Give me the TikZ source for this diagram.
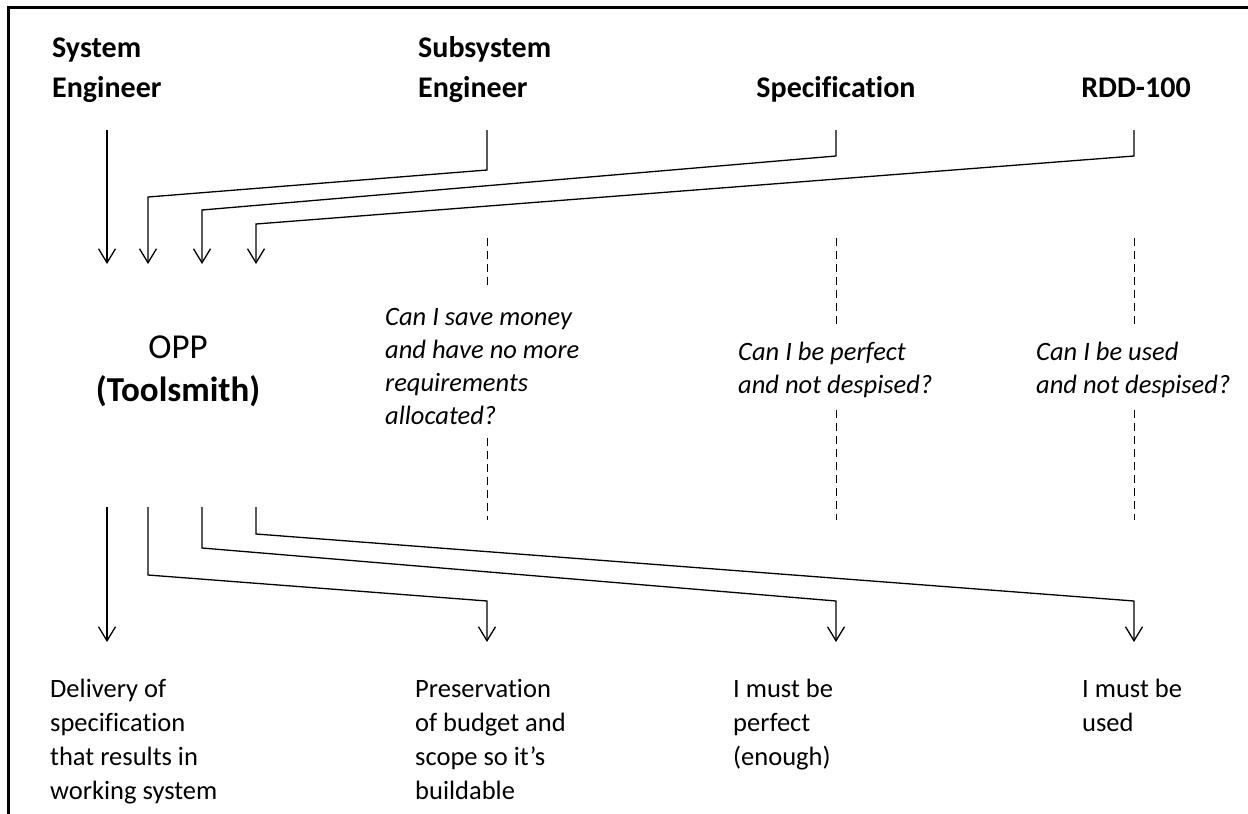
\documentclass[tikz,border=0pt]{standalone}
\usepackage{fontspec}
\setmainfont{Carlito}[Ligatures=CommonOff]
\usetikzlibrary{arrows.meta}
\begin{document}
\begin{tikzpicture}[x=1pt,y=-1pt,
  head/.style={anchor=base west, align=left, inner sep=0pt, font=\bfseries\fontsize{30}{40}\selectfont},
  headc/.style={anchor=base, align=left, inner sep=0pt, font=\bfseries\fontsize{30}{40}\selectfont},
  body/.style={anchor=base west, align=left, inner sep=0pt, font=\fontsize{26.5}{34}\selectfont},
  quest/.style={anchor=base west, align=left, inner sep=0pt, font=\itshape\fontsize{26.5}{33}\selectfont},
  conn/.style={line width=1.3pt, -{Straight Barb[length=14pt,width=17pt]}},
  guide/.style={line width=1pt, dash pattern=on 8pt off 5pt},
  frame/.style={line width=3pt}]
\useasboundingbox (0,0) rectangle (1248,814);
\draw[frame] (8,814) -- (8,7) -- (1248,7);

% headers (anchor = baseline of last line)
\node[head] (se) at (52,97) {System\\Engineer};
\node[head] (sse) at (418,97) {Subsystem\\Engineer};
\node[headc] (spec) at (836,97) {Specification};
\node[headc] (rdd) at (1136,97) {RDD-100};

% tool node
\node[align=center, inner sep=0pt, anchor=base, font=\fontsize{35}{43}\selectfont] (opp) at (178,401)
  {OPP\\\textbf{(Toolsmith)}};

% questions
\node[quest] (q1) at (385,424) {Can I save money\\and have no more\\requirements\\allocated?};
\node[quest] (q2) at (738,393) {Can I be perfect\\and not despised?};
\node[quest] (q3) at (1036,393) {Can I be used\\and not despised?};

% outcomes
\node[body] (o1) at (50,799) {Delivery of\\specification\\that results in\\working system};
\node[body] (o2) at (415,799) {Preservation\\of budget and\\scope so it’s\\buildable};
\node[body] (o3) at (733,765) {I must be\\perfect\\(enough)};
\node[body] (o4) at (1082,731) {I must be\\used};

% coordinates
\coordinate (se-out) at (107,130);
\coordinate (sse-out) at (487,130);
\coordinate (spec-out) at (836,130);
\coordinate (rdd-out) at (1134,130);
\coordinate (in1) at (107,264);
\coordinate (in2) at (148,264);
\coordinate (in3) at (202,264);
\coordinate (in4) at (256,264);
\coordinate (out1) at (107,507);
\coordinate (out2) at (148,507);
\coordinate (out3) at (202,507);
\coordinate (out4) at (256,507);
\coordinate (o1-in) at (107,642);
\coordinate (o2-in) at (487,642);
\coordinate (o3-in) at (836,642);
\coordinate (o4-in) at (1134,642);

% incoming
\draw[conn] (se-out) -- (in1);
\draw[conn] (sse-out) -- (487,170) -- (148,197) -- (in2);
\draw[conn] (spec-out) -- (836,156) -- (202,210) -- (in3);
\draw[conn] (rdd-out) -- (1134,156) -- (256,224) -- (in4);

% outgoing
\draw[conn] (out1) -- (o1-in);
\draw[conn] (out2) -- (148,575) -- (487,601) -- (o2-in);
\draw[conn] (out3) -- (202,548) -- (836,601) -- (o3-in);
\draw[conn] (out4) -- (256,534) -- (1134,601) -- (o4-in);

% dashed guides
\coordinate (g1a) at (487,238); \coordinate (g1b) at (487,289);
\coordinate (g1c) at (487,438); \coordinate (g1d) at (487,520);
\coordinate (g2a) at (836,238); \coordinate (g2b) at (836,324);
\coordinate (g2c) at (836,410); \coordinate (g2d) at (836,520);
\coordinate (g3a) at (1134,238); \coordinate (g3b) at (1134,324);
\coordinate (g3c) at (1134,410); \coordinate (g3d) at (1134,520);
\draw[guide] (g1a) -- (g1b);
\draw[guide] (g1c) -- (g1d);
\draw[guide] (g2a) -- (g2b);
\draw[guide] (g2c) -- (g2d);
\draw[guide] (g3a) -- (g3b);
\draw[guide] (g3c) -- (g3d);
\end{tikzpicture}
\end{document}
